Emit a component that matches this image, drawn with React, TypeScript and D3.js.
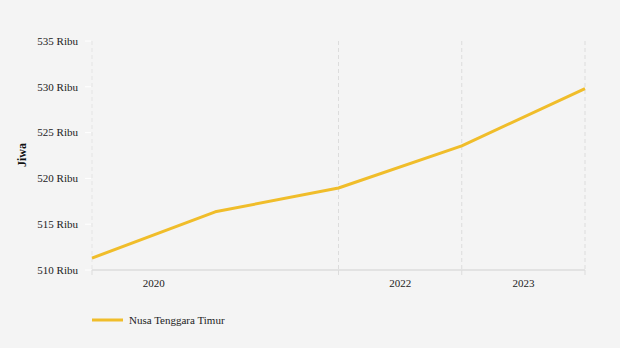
import React from "react";
import * as d3 from "d3";

const periods = ["P1", "P2", "P3", "P4", "P5"];
const values = [511.3, 516.35, 518.95, 523.55, 529.8];
const yTicks = [510, 515, 520, 525, 530, 535];
const xGridIdx = [2, 3, 4];
const xTickIdx = [0, 2, 3, 4];
const xLabels = [
  { label: "2020", from: 0, to: 1 },
  { label: "2022", from: 2, to: 3 },
  { label: "2023", from: 3, to: 4 },
];
const seriesName = "Nusa Tenggara Timur";

export default function App() {
  const W = 620, H = 348;
  const left = 92, right = 585, top = 41, bottom = 270;
  const x = d3.scaleLinear().domain([0, periods.length - 1]).range([left, right]);
  const y = d3.scaleLinear().domain([510, 535]).range([bottom, top]);
  const line = d3.line<number>().x((_, i) => x(i)).y((d) => y(d));
  const color = "#f0bd2a";
  const font = "'Liberation Serif', 'Times New Roman', serif";
  return (
    <svg width={W} height={H} style={{ position: "absolute", left: 0, top: 0, background: "#f4f4f4" }} fontFamily={font}>
      <rect width={W} height={H} fill="#f4f4f4" />
      {xGridIdx.map((i) => (
        <line key={i} x1={x(i)} x2={x(i)} y1={top} y2={bottom} stroke="#dcdcdc" strokeWidth={1} strokeDasharray="4,3" />
      ))}
      <line x1={left} x2={left} y1={top} y2={bottom} stroke="#e4e4e4" strokeWidth={1} strokeDasharray="4,3" />
      {yTicks.map((t) => (
        <g key={t}>
          <line x1={left - 7} x2={left - 1} y1={y(t)} y2={y(t)} stroke="#ffffff" strokeWidth={1} />
          <text x={78} y={y(t)} dy="0.35em" textAnchor="end" fontSize={11} fill="#222">{t} Ribu</text>
        </g>
      ))}
      <line x1={left} x2={right} y1={bottom} y2={bottom} stroke="#e2e2e2" strokeWidth={2} />
      {xTickIdx.map((i) => (
        <line key={i} x1={x(i)} x2={x(i)} y1={bottom} y2={bottom + 5} stroke="#dcdcdc" strokeWidth={1} />
      ))}
      {xLabels.map((l) => (
        <text key={l.label} x={(x(l.from) + x(l.to)) / 2} y={287} textAnchor="middle" fontSize={11} fill="#222">{l.label}</text>
      ))}
      <text transform={`translate(26,155) rotate(-90)`} textAnchor="middle" fontSize={12} fontWeight="bold" fill="#111">Jiwa</text>
      <path d={line(values) || ""} fill="none" stroke={color} strokeWidth={3} strokeLinejoin="round" />
      <line x1={92} x2={123} y1={320} y2={320} stroke={color} strokeWidth={3} />
      <text x={129} y={320} dy="0.35em" fontSize={11} fill="#222">{seriesName}</text>
    </svg>
  );
}
